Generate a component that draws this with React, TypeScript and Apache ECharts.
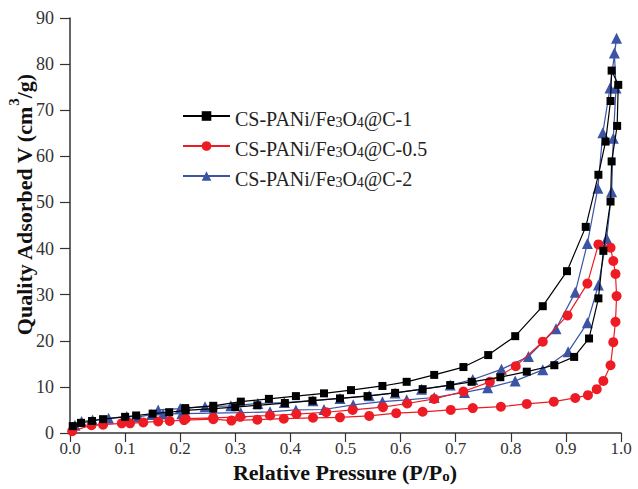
import React, { useEffect, useRef } from "react";
import * as echarts from "echarts";

const seriesNames = ["CS-PANi/Fe3O4@C-1", "CS-PANi/Fe3O4@C-0.5", "CS-PANi/Fe3O4@C-2"];
const xTicks = [0, 0.1, 0.2, 0.3, 0.4, 0.5, 0.6, 0.7, 0.8, 0.9, 1.0];
const yTicks = [0, 10, 20, 30, 40, 50, 60, 70, 80, 90];

// CS-PANi/Fe3O4@C-1 (adsorption then desorption)
const c1P = [0.005, 0.02, 0.04, 0.06, 0.1, 0.12, 0.15, 0.18, 0.21, 0.26, 0.3, 0.34, 0.39, 0.44, 0.49, 0.54, 0.59, 0.64, 0.69, 0.729, 0.781, 0.829, 0.879, 0.915, 0.942, 0.959, 0.968, 0.981, 0.983, 0.993, 0.995, 0.983,
  0.981, 0.972, 0.959, 0.936, 0.902, 0.858, 0.808, 0.759, 0.714, 0.661, 0.611, 0.567, 0.51, 0.461, 0.41, 0.361, 0.31, 0.26, 0.209];
const c1V = [1.5, 2.2, 2.6, 3.0, 3.5, 3.8, 4.2, 4.5, 4.9, 5.3, 5.6, 6.0, 6.5, 7.0, 7.5, 8.0, 8.7, 9.5, 10.4, 11.1, 12.1, 13.3, 14.7, 16.5, 20.5, 29.2, 39.5, 50.2, 58.9, 66.6, 75.5, 78.6,
  72.0, 63.2, 56.0, 44.7, 35.1, 27.5, 21.0, 16.9, 14.3, 12.6, 11.1, 10.2, 9.3, 8.6, 8.0, 7.4, 6.8, 5.9, 5.4];

// CS-PANi/Fe3O4@C-0.5
const c05P = [0.004, 0.039, 0.06, 0.094, 0.109, 0.133, 0.16, 0.181, 0.207, 0.26, 0.293, 0.34, 0.388, 0.441, 0.49, 0.543, 0.592, 0.64, 0.691, 0.731, 0.782, 0.829, 0.878, 0.917, 0.94, 0.956, 0.968, 0.981, 0.986, 0.99, 0.992, 0.99, 0.986, 0.981,
  0.959, 0.939, 0.903, 0.858, 0.809, 0.762, 0.714, 0.661, 0.612, 0.568, 0.513, 0.465, 0.411, 0.363, 0.309, 0.26, 0.21];
const c05V = [0.4, 1.7, 1.8, 2.1, 2.1, 2.3, 2.5, 2.6, 2.8, 3.0, 2.7, 2.9, 3.1, 3.3, 3.4, 3.7, 4.3, 4.6, 5.0, 5.4, 5.7, 6.3, 6.8, 7.6, 8.2, 9.5, 11.3, 14.7, 19.7, 24.1, 29.7, 34.5, 37.3, 40.2,
  40.9, 32.4, 25.5, 19.8, 14.5, 11.1, 9.0, 7.4, 6.4, 5.6, 5.0, 4.5, 4.1, 3.8, 3.5, 3.3, 3.1];

// CS-PANi/Fe3O4@C-2
const c2P = [0.009, 0.021, 0.041, 0.07, 0.103, 0.124, 0.148, 0.169, 0.203, 0.26, 0.31, 0.363, 0.41, 0.461, 0.514, 0.567, 0.611, 0.661, 0.716, 0.758, 0.808, 0.858, 0.904, 0.939, 0.959, 0.974, 0.983, 0.986, 0.991, 0.988, 0.992,
  0.98, 0.967, 0.958, 0.939, 0.917, 0.882, 0.832, 0.783, 0.731, 0.69, 0.638, 0.59, 0.543, 0.49, 0.441, 0.389, 0.341, 0.292, 0.245, 0.2, 0.16];
const c2V = [1.7, 2.5, 2.8, 3.2, 3.6, 3.5, 4.0, 4.1, 4.2, 4.3, 4.4, 4.6, 5.0, 5.1, 6.1, 6.8, 7.2, 7.7, 8.8, 9.8, 11.3, 13.7, 17.6, 23.9, 32.1, 42.2, 52.3, 63.9, 74.8, 82.4, 85.6,
  74.8, 65.1, 53.1, 41.1, 30.5, 22.6, 16.6, 13.8, 11.6, 10.4, 9.5, 8.7, 8.1, 7.5, 7.0, 6.6, 6.4, 5.9, 5.7, 5.3, 5.0];

const colors = ["#000000", "#ed1c24", "#3b54a5"];
const symbols = ["rect", "circle", "triangle"];
const symbolSizes = [8, 10, 11];
const seriesP = [c1P, c05P, c2P];
const seriesV = [c1V, c05V, c2V];

const FONT = "'Liberation Serif', 'DejaVu Serif', serif";

function richName(name: string) {
  const m = name.match(/^(.*Fe)3O4(@.*)$/);
  if (!m) return name;
  return `{n|${m[1]}}{s|3}{n|O}{s|4}{n|${m[2]}}`;
}

export default function App() {
  const ref = useRef<HTMLDivElement>(null);
  useEffect(() => {
    if (!ref.current) return;
    const chart = echarts.init(ref.current, undefined, { renderer: "svg" });
    const series = seriesNames.map((name, i) => ({
      name,
      type: "line",
      data: seriesP[i].map((p, j) => [p, seriesV[i][j]]),
      symbol: symbols[i],
      symbolSize: symbolSizes[i],
      showAllSymbol: true,
      lineStyle: { color: colors[i], width: 1.2 },
      itemStyle: { color: colors[i] },
      z: 3 - i,
    }));
    chart.setOption({
      animation: false,
      backgroundColor: "#ffffff",
      grid: { left: 70, right: 17, top: 18, bottom: 56 },
      legend: {
        orient: "vertical",
        left: 177,
        top: 94,
        itemWidth: 47,
        itemHeight: 12,
        itemGap: 0,
        data: seriesNames,
        formatter: (name: string) => richName(name),
        textStyle: {
          fontFamily: FONT,
          color: "#222",
          rich: {
            n: { fontFamily: FONT, fontSize: 20, lineHeight: 26, color: "#222", verticalAlign: "bottom" },
            s: { fontFamily: FONT, fontSize: 14, lineHeight: 10, padding: [16, 0, 0, 0], color: "#222", verticalAlign: "bottom" },
          },
        },
      },
      xAxis: {
        type: "value",
        min: 0,
        max: 1,
        interval: 0.1,
        axisLine: { show: true, onZero: false, lineStyle: { color: "#333", width: 1.5 } },
        axisTick: { show: true, inside: false, length: 9, lineStyle: { color: "#333", width: 1.2 } },
        axisLabel: {
          margin: 7,
          fontFamily: FONT,
          fontSize: 17,
          lineHeight: 16,
          color: "#333",
          formatter: (v: number) => (xTicks.some((t) => Math.abs(t - v) < 1e-9) ? v.toFixed(1) : ""),
        },
        splitLine: { show: false },
      },
      yAxis: {
        type: "value",
        min: 0,
        max: 90,
        interval: 10,
        axisLine: { show: true, onZero: false, lineStyle: { color: "#333", width: 1.5 } },
        axisTick: { show: true, inside: false, length: 10, lineStyle: { color: "#333", width: 1.2 } },
        axisLabel: {
          margin: 16,
          fontFamily: FONT,
          fontSize: 18,
          color: "#333",
          formatter: (v: number) => (yTicks.includes(v) ? String(v) : ""),
        },
        splitLine: { show: false },
      },
      graphic: [
        {
          type: "text",
          x: 21,
          y: 205,
          rotation: Math.PI / 2,
          style: {
            text: "{b|Quality Adsorbed V (cm}{sup|3}{b|/g)}",
            align: "center",
            verticalAlign: "middle",
            rich: {
              b: { fontFamily: FONT, fontSize: 22, fontWeight: "bold", fill: "#111", lineHeight: 28, verticalAlign: "bottom" },
              sup: { fontFamily: FONT, fontSize: 15, fontWeight: "bold", fill: "#111", lineHeight: 14, padding: [0, 0, 14, 0], verticalAlign: "bottom" },
            },
          },
        },
        {
          type: "text",
          x: 345,
          y: 472,
          style: {
            text: "{b|Relative Pressure (P/P}{bs|o}{b|)}",
            align: "center",
            verticalAlign: "middle",
            rich: {
              b: { fontFamily: FONT, fontSize: 22, fontWeight: "bold", fill: "#111", lineHeight: 22, verticalAlign: "bottom" },
              bs: { fontFamily: FONT, fontSize: 15, fontWeight: "bold", fill: "#111", lineHeight: 10, padding: [12, 0, 0, 0], verticalAlign: "bottom" },
            },
          },
        },
      ],
      series,
    });
    return () => chart.dispose();
  }, []);
  return (
    <div
      ref={ref}
      style={{ position: "fixed", left: 0, top: 0, width: 638, height: 489, background: "#fff" }}
    />
  );
}
